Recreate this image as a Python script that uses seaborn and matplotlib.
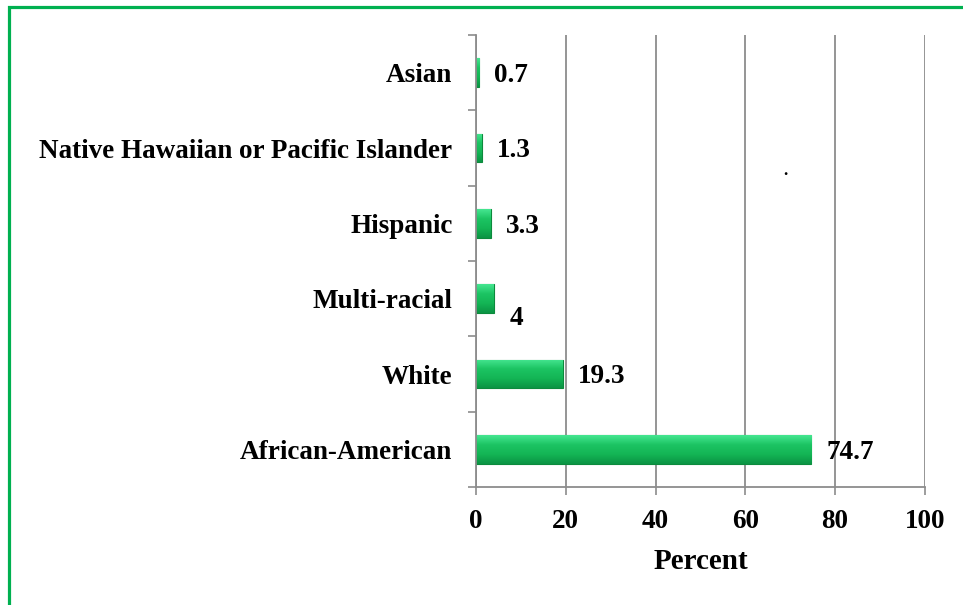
import numpy as np
import pandas as pd
import matplotlib
matplotlib.use('Agg')
import matplotlib.pyplot as plt
import seaborn as sns
from matplotlib.patches import Rectangle
from matplotlib.colors import LinearSegmentedColormap

# Data
groups = ['Asian', 'Native Hawaiian or Pacific Islander', 'Hispanic',
          'Multi-racial', 'White', 'African-American']
percent = [0.7, 1.3, 3.3, 4, 19.3, 74.7]
value_labels = ['0.7', '1.3', '3.3', '4', '19.3', '74.7']

df = pd.DataFrame({'group': groups, 'percent': percent})

sns.set_style('white')
plt.rcParams['font.family'] = ['Liberation Serif', 'DejaVu Serif']
plt.rcParams['font.weight'] = 'bold'
plt.rcParams['text.color'] = 'black'
plt.rcParams['xtick.color'] = 'black'
plt.rcParams['ytick.color'] = 'black'
plt.rcParams['axes.labelcolor'] = 'black'

fig = plt.figure(figsize=(9.63, 6.05), dpi=100)
ax = fig.add_axes([0.4943, 0.195, 0.466, 0.747])

sns.barplot(data=df, x='percent', y='group', orient='h', color='#16bb58',
            saturation=1, width=0.38, edgecolor='#0c8a3c', linewidth=0.8, ax=ax)

# Bevelled green look: vertical gradient clipped to each bar
bevel = LinearSegmentedColormap.from_list('bevel', ['#45e690', '#1cc463', '#14b555', '#0b9444'])
grad = np.linspace(0, 1, 64).reshape(-1, 1)
for p in ax.patches:
    x0, y0 = p.get_x(), p.get_y()
    w, h = p.get_width(), p.get_height()
    im = ax.imshow(grad, cmap=bevel, aspect='auto', extent=(x0, x0 + w, y0 + h, y0),
                   zorder=p.get_zorder() + 0.1, origin='upper')
    im.set_clip_path(p)

# Value labels
for i, (v, lab) in enumerate(zip(percent, value_labels)):
    dy = 14 if lab == '4' else 2
    ax.annotate(lab, xy=(v, i), xytext=(11, -dy), textcoords='offset points',
                ha='left', va='center', fontsize=19.5, fontweight='bold', color='black')

# stray dot seen in the original picture
ax.text(69, 1.3, '.', fontsize=12, ha='center', va='center')

ax.set_xlim(0, 100)
ax.set_ylim(5.5, -0.5)
ax.set_xticks([0, 20, 40, 60, 80, 100])
ax.xaxis.grid(True, color='#8c8c8c', linewidth=1.3)
ax.set_axisbelow(True)

# Category ticks at the boundaries, labels in the middle
ax.set_yticks([i - 0.5 for i in range(7)], minor=False)
ax.set_yticklabels([])
ax.set_yticks(range(6), minor=True)
ax.set_yticklabels(groups, minor=True, fontsize=19.5, fontweight='bold')
ax.tick_params(axis='y', which='major', length=6, width=1.2, color='#8c8c8c', direction='out', left=True)
ax.tick_params(axis='y', which='minor', length=0, pad=17)
ax.tick_params(axis='x', length=6, width=1.2, color='#8c8c8c', direction='out', bottom=True,
               labelsize=19.5, pad=10)
for t in ax.get_xticklabels():
    t.set_fontweight('bold')

for side in ['top', 'right']:
    ax.spines[side].set_visible(False)
for side in ['left', 'bottom']:
    ax.spines[side].set_color('#8c8c8c')
    ax.spines[side].set_linewidth(1.3)

ax.set_ylabel('')
ax.set_xlabel('Percent', fontsize=21, fontweight='bold', labelpad=10)

# Green frame around the chart (cut off at right and bottom)
fig.patches.append(Rectangle((8.5 / 963, -0.1), 1.2, 1 - 7 / 605 + 0.1, transform=fig.transFigure,
                             fill=False, edgecolor='#00b050', linewidth=2.3))

fig.savefig('out.png', dpi=100)
